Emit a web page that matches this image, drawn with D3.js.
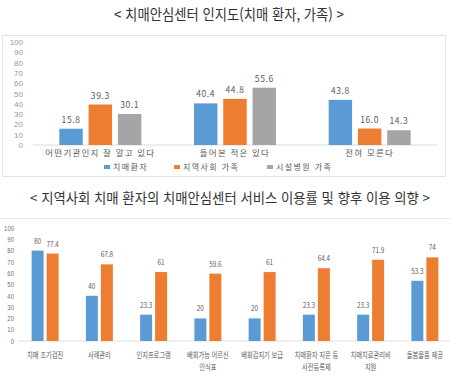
<!DOCTYPE html>
<html lang="ko">
<head>
<meta charset="UTF-8">
<title>치매안심센터 인지도 및 이용률</title>
<script src="https://d3js.org/d3.v7.min.js"></script>
<style>
  body { margin: 0; background: #fff; font-family: "Noto Sans CJK KR", "Noto Sans", sans-serif; }
  svg text { fill: #595959; }
  .title { fill: #333; }
</style>
</head>
<body>
<svg id="chart" width="450" height="376"></svg>
<script>
// 상단: 치매안심센터 인지도
const awareCats = ["어떤기관인지 잘 알고 있다", "들어본 적은 있다", "전혀 모른다"];
const awareSeries = ["치매환자", "지역사회 가족", "시설병원 가족"];
const awarePatient = [15.8, 40.4, 43.8];
const awareCommunity = [39.3, 44.8, 16.0];
const awareFacility = [30.1, 55.6, 14.3];
const awareLabels = ["15.8", "40.4", "43.8", "39.3", "44.8", "16.0", "30.1", "55.6", "14.3"];

// 하단: 서비스 이용률 및 향후 이용 의향
const svcCats = [["치매 조기검진"], ["사례관리"], ["인지프로그램"], ["배회가능 어르신", "인식표"],
  ["배회감지기 보급"], ["치매환자 지문 등", "사전등록제"], ["치매치료관리비", "지원"], ["돌봄물품 제공"]];
const svcUse = [80, 40, 23.3, 20, 20, 23.3, 23.3, 53.3];
const svcIntent = [77.4, 67.8, 61, 59.6, 61, 64.4, 71.9, 74];

const yTicks = [0, 10, 20, 30, 40, 50, 60, 70, 80, 90, 100];
const colors = ["#5b9bd5", "#ed7d31", "#a5a5a5"];

const svg = d3.select("#chart");

// 가로로 좁은 글꼴처럼 보이게 압축
function squeeze(sel, k) {
  sel.each(function() {
    const w = this.getComputedTextLength();
    d3.select(this).attr("textLength", w * k).attr("lengthAdjust", "spacingAndGlyphs");
  });
}

// 제목
svg.append("text").attr("class", "title").attr("x", 229).attr("y", 20)
  .attr("text-anchor", "middle").style("font-size", "15px")
  .text("< 치매안심센터 인지도(치매 환자, 가족) >")
  .attr("textLength", 230).attr("lengthAdjust", "spacingAndGlyphs");
svg.append("text").attr("class", "title").attr("x", 230).attr("y", 203)
  .attr("text-anchor", "middle").style("font-size", "13.8px")
  .text("< 지역사회 치매 환자의 치매안심센터 서비스 이용률 및 향후 이용 의향 >")
  .attr("textLength", 400).attr("lengthAdjust", "spacingAndGlyphs");

// ---- 상단 차트 ----
svg.append("rect").attr("x", 2.5).attr("y", 35.5).attr("width", 443).attr("height", 141)
  .attr("fill", "none").attr("stroke", "#e3e3e3");

const gTop = svg.append("g");
const y1 = d3.scaleLinear().domain([0, 100]).range([145, 42]);
const x1 = d3.scaleBand().domain(awareCats).range([33, 437]);
const s1 = d3.scaleBand().domain(awareSeries).range([-41, 41]).paddingInner(0.2);

gTop.append("g").attr("transform", "translate(23,0)")
  .call(d3.axisLeft(y1).tickValues(yTicks).tickSize(0).tickPadding(0))
  .call(g => g.select(".domain").remove())
  .selectAll("text").style("font-size", "8px").style("fill", "#999");

gTop.append("line").attr("x1", 33).attr("x2", 437).attr("y1", y1(0)).attr("y2", y1(0))
  .attr("stroke", "#d9d9d9");

const awareRows = [awarePatient, awareCommunity, awareFacility];
awareRows.forEach((vals, si) => {
  vals.forEach((v, ci) => {
    const cx = x1(awareCats[ci]) + x1.bandwidth() / 2 + s1(awareSeries[si]);
    gTop.append("rect").attr("x", cx).attr("y", y1(v))
      .attr("width", s1.bandwidth()).attr("height", y1(0) - y1(v))
      .attr("fill", colors[si]);
    gTop.append("text").attr("x", cx + s1.bandwidth() / 2).attr("y", y1(v) - 6)
      .attr("text-anchor", "middle").style("font-size", "8.5px").style("letter-spacing", "0.6px")
      .text(awareLabels[si * 3 + ci]);
  });
});

awareCats.forEach(c => {
  gTop.append("text").attr("x", x1(c) + x1.bandwidth() / 2).attr("y", 156)
    .attr("text-anchor", "middle").style("font-size", "8.5px").style("letter-spacing", "1.2px").text(c);
});

// 범례
const legendX = [104, 174, 267];
awareSeries.forEach((s, i) => {
  const lg = gTop.append("g").attr("transform", `translate(${legendX[i]},170)`);
  lg.append("rect").attr("x", 0).attr("y", -5).attr("width", 6).attr("height", 4).attr("fill", colors[i]);
  lg.append("text").attr("x", 9).attr("y", 0).style("font-size", "8px").style("letter-spacing", "1.4px").text(s);
});

// ---- 하단 차트 ----
svg.append("line").attr("x1", 0).attr("x2", 450).attr("y1", 218.5).attr("y2", 218.5)
  .attr("stroke", "#e8e8e8");

const gBot = svg.append("g");
const y2 = d3.scaleLinear().domain([0, 100]).range([341, 228]);
const x2 = d3.scaleBand().domain(d3.range(svcCats.length)).range([18, 452]);
const s2 = d3.scaleBand().domain([0, 1]).range([-13.5, 13.5]).paddingInner(0.2);

gBot.append("g").attr("transform", "translate(14,0)")
  .call(d3.axisLeft(y2).tickValues(yTicks).tickSize(0).tickPadding(0))
  .call(g => g.select(".domain").remove())
  .selectAll("text").style("font-size", "7px").style("fill", "#6f6f6f")
  .call(squeeze, 0.85);

gBot.append("line").attr("x1", 18).attr("x2", 450).attr("y1", y2(0)).attr("y2", y2(0))
  .attr("stroke", "#e0e0e0");

[svcUse, svcIntent].forEach((vals, si) => {
  vals.forEach((v, ci) => {
    const bx = x2(ci) + x2.bandwidth() / 2 + s2(si);
    gBot.append("rect").attr("x", bx).attr("y", y2(v))
      .attr("width", s2.bandwidth()).attr("height", y2(0) - y2(v))
      .attr("fill", colors[si]);
    gBot.append("text").attr("x", bx + s2.bandwidth() / 2).attr("y", y2(v) - 7)
      .attr("text-anchor", "middle").style("font-size", "7.5px").text(v)
      .call(squeeze, 0.85);
  });
});

svcCats.forEach((lines, ci) => {
  lines.forEach((ln, li) => {
    gBot.append("text").attr("x", x2(ci) + x2.bandwidth() / 2).attr("y", 358 + li * 12)
      .attr("text-anchor", "middle").style("font-size", "7.6px").text(ln)
      .call(squeeze, 0.82);
  });
});
</script>
</body>
</html>
